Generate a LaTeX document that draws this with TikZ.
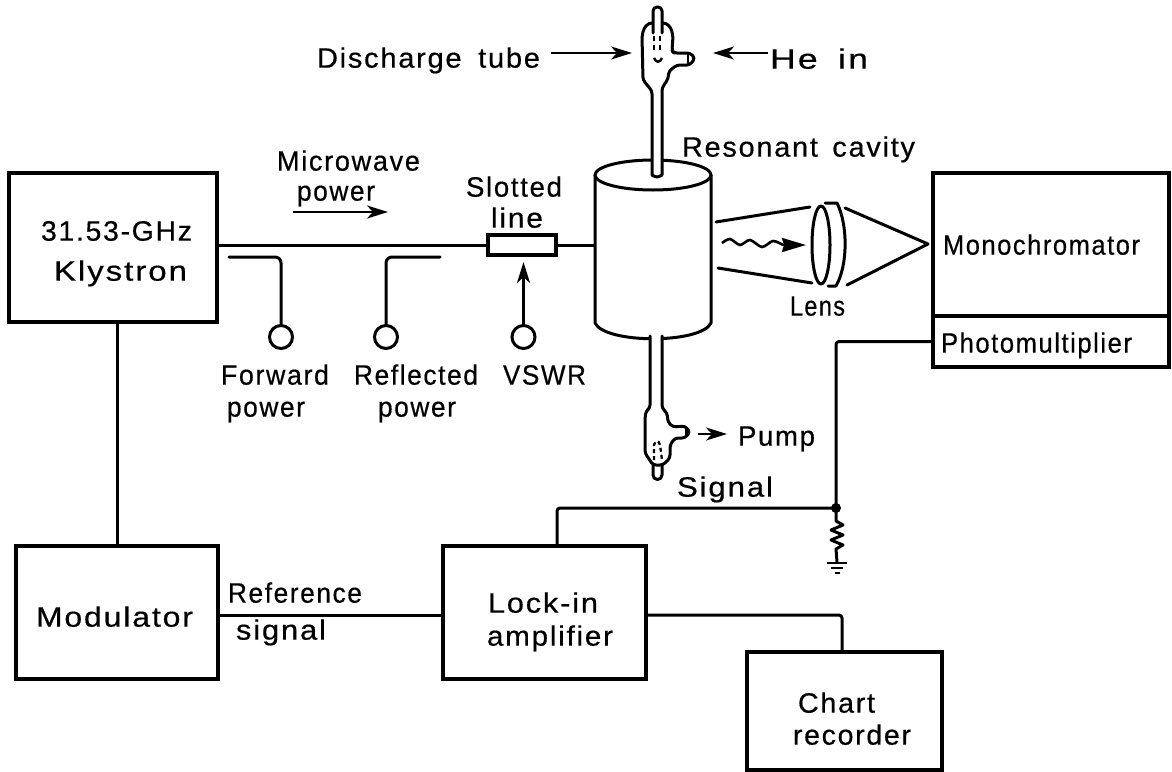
\documentclass[tikz,border=0pt]{standalone}
\usepackage{graphicx}
\usepackage{fontspec}
\setmainfont{Liberation Sans}[LetterSpace=6,FakeBold=0.5]
\usetikzlibrary{arrows.meta}
\tikzset{
  ln/.style={line width=3pt,line join=round,line cap=round},
  boxn/.style={draw,line width=3.2pt,rectangle,inner sep=0pt,outer sep=0pt,line join=miter},
  meter/.style={draw,line width=3pt,circle,inner sep=0pt,outer sep=0pt,minimum size=23pt},
  lbl/.style={inner sep=0pt,outer sep=0pt,anchor=mid,font=\fontsize{28}{30}\selectfont},
  tip/.style={-{Stealth[length=21pt,width=13pt,inset=6pt]},line width=2.8pt},
}
\newcommand\lb[5]{%
  \pgfmathsetlengthmacro{\lbw}{#3-#2}%
  \node[lbl] (#1) at ({(#2+#3)/2},#4+7) {\resizebox{\lbw}{\height}{#5}};}
\newcommand\bx[5]{%
  \node[boxn,minimum width={(#4-#2)*1pt},minimum height={(#5-#3)*1pt}] (#1) at ({(#2+#4)/2},{(#3+#5)/2}) {};}
\begin{document}
\begin{tikzpicture}[x=1pt,y=-1pt]
\useasboundingbox (0,0) rectangle (1172,771);
% boxes
\bx{klystron}{9}{173}{217}{322}
\bx{modulator}{16}{546}{218}{679}
\bx{lockin}{443}{546}{646}{679}
\bx{chart}{747}{652}{942}{770}
\bx{mono}{933}{173}{1169}{316}
\bx{photo}{933}{316}{1169}{367}
\bx{slotted}{488}{235}{556}{255}
% meters
\node[meter] (mfwd) at (281,337) {};
\node[meter] (mref) at (386,337) {};
\node[meter] (mvswr) at (523.5,337) {};
% cavity
\node[inner sep=0pt,minimum width=116pt,minimum height=163pt] (cavity) at (653,257) {};
\draw[ln,fill=white] (595,175) -- (595,323) .. controls (605,344) and (701,344) .. (711,323) -- (711,175);
\draw[ln,fill=white] (653,175) ellipse [x radius=58,y radius=15];
% upper tube
\draw[ln,fill=white,rounded corners=3pt] (652,172) -- (652,91) -- (648,86) -- (643,80) -- (642,36) -- (644,28) -- (649,23) -- (666,23) -- (671,28) -- (673,36) -- (672,51) -- (674,53) -- (690,53) -- (695,58) -- (690,65) -- (677,65) -- (669,71) -- (668,79) -- (662,88) -- (662,172) arc [start angle=0,end angle=180,radius=5] -- cycle;
\draw[ln,fill=white,rounded corners=4pt] (653,33) -- (653,7) -- (662,7) -- (662,33);
\draw[line width=2.2pt] (688,54) -- (688,64);
\draw[line width=2.4pt,dash pattern=on 5pt off 4pt] (654,36) -- (654,52);
\draw[line width=2.4pt,dash pattern=on 5pt off 4pt] (660,36) -- (660,52);
\draw[line width=2.4pt] (654,58) .. controls (656,63) and (660,63) .. (662,58);
% lower tube
\draw[ln,fill=white] (653,465) -- (653,475) arc [start angle=180,end angle=0,radius=4.5] -- (662,465);
\draw[ln,fill=white,rounded corners=3pt] (650,336) -- (650,408) -- (646,411) -- (645,418) -- (645,453) -- (653,465) -- (663,465) -- (670,458) -- (670,445) -- (675,438) -- (685,438) -- (690,432) -- (685,426) -- (673,427) -- (668,422) -- (667,413) -- (662,408) -- (662,336);
\draw[line width=2.2pt] (686,427) -- (686,437);
\draw[line width=2.2pt,dash pattern=on 4pt off 3pt] (654,460) -- (654,445) .. controls (655,440) and (659,440) .. (660,445) -- (662,460);
% main connectors
\draw[ln] (klystron.east |- slotted.west) -- (slotted.west);
\draw[ln] (slotted.east) -- (cavity.west |- slotted.east);
\coordinate (kmx) at (117,400);
\draw[ln] (klystron.south -| kmx) -- (modulator.north -| kmx);
\coordinate (fwdstart) at (229,257);
\coordinate (refstart) at (440,257);
\draw[ln,rounded corners=6pt] (fwdstart) -- (fwdstart -| mfwd) -- (mfwd.north);
\draw[ln,rounded corners=6pt] (refstart) -- (refstart -| mref) -- (mref.north);
\coordinate (vtip) at (523.5,262);
\draw[tip] (mvswr.north) -- (vtip);
\coordinate (refy) at (330,615);
\draw[ln] (modulator.east |- refy) -- (lockin.west |- refy);
\coordinate (charx) at (842,615);
\draw[ln,rounded corners=3pt] (lockin.east |- refy) -- (charx) -- (chart.north -| charx);
\coordinate (junction) at (836,508);
\coordinate (sigx) at (557,508);
\draw[ln,rounded corners=3pt] (sigx |- lockin.north) -- (sigx) -- (junction);
\draw[ln,rounded corners=3pt] (junction) -- (junction |- photo.west) -- (photo.west);
\fill (junction) circle (5);
% resistor and ground
\coordinate (gnd) at (837,562);
\draw[line width=3pt,line join=round] (junction) -- (836,521) -- (843,525) -- (831,530) -- (843,535) -- (831,540) -- (843,545) -- (836,549) -- (gnd);
\draw[line width=2.6pt] (827,563) -- (847,563) (831,568) -- (843,568) (835,573) -- (840,573);
% lens
\draw[ln] (716,222) -- (810,207);
\draw[ln] (718,268) -- (812,283);
\draw[ln] (821,245) ellipse [x radius=9,y radius=39];
\draw[ln] (825,203) -- (837,203) .. controls (848,225) and (848,265) .. (836,286) -- (828,286);
\draw[ln] (845,208) -- (928,244) -- (847,285);
\draw[line width=2.6pt,smooth] plot coordinates {(722,243) (730,239) (740,245) (750,240) (762,247) (773,241) (783,245)};
\coordinate (wavestart) at (783,245);
\coordinate (waveend) at (806,245);
\draw[-{Stealth[length=24pt,width=14pt,inset=2pt]},line width=2.4pt] (wavestart) -- (waveend);
% free arrows
\coordinate (a1s) at (551,53); \coordinate (a1e) at (632,53);
\draw[tip] (a1s) -- (a1e);
\coordinate (a2s) at (768,53); \coordinate (a2e) at (713,53);
\draw[tip] (a2s) -- (a2e);
\coordinate (a3s) at (293,212); \coordinate (a3e) at (388,212);
\draw[tip] (a3s) -- (a3e);
\coordinate (a4s) at (698,434); \coordinate (a4e) at (727,434);
\draw[tip] (a4s) -- (a4e);
% labels
\lb{t1}{317}{540}{58}{Discharge\hspace{16pt}tube}
\lb{t2}{770}{868}{59}{He\hspace{16pt}in}
\lb{t3}{682}{915}{147}{Resonant\hspace{14pt}cavity}
\lb{t4}{277}{420}{161}{Microwave}
\lb{t5}{297}{375}{191}{power}
\lb{t6}{466}{562}{187}{Slotted}
\lb{t7}{491}{543}{218}{line}
\lb{t8}{41}{192}{231}{31.53-GHz}
\lb{t9}{54}{187}{271}{Klystron}
\lb{t10}{221}{329}{375}{Forward}
\lb{t11}{227}{305}{407}{power}
\lb{t12}{354}{478}{375}{Reflected}
\lb{t13}{378}{456}{407}{power}
\lb{t14}{503}{586}{375}{VSWR}
\lb{t15}{36}{193}{617}{Modulator}
\lb{t16}{228}{362}{593}{Reference}
\lb{t17}{236}{326}{630}{signal}
\lb{t18}{488}{598}{603}{Lock-in}
\lb{t19}{487}{613}{636}{amplifier}
\lb{t20}{798}{875}{703}{Chart}
\lb{t21}{793}{911}{735}{recorder}
\lb{t22}{943}{1140}{245}{Monochromator}
\lb{t23}{941}{1132}{343}{Photomultiplier}
\lb{t24}{790}{845}{306}{Lens}
\lb{t25}{738}{815}{436}{Pump}
\lb{t26}{677}{773}{487}{Signal}
\end{tikzpicture}
\end{document}
